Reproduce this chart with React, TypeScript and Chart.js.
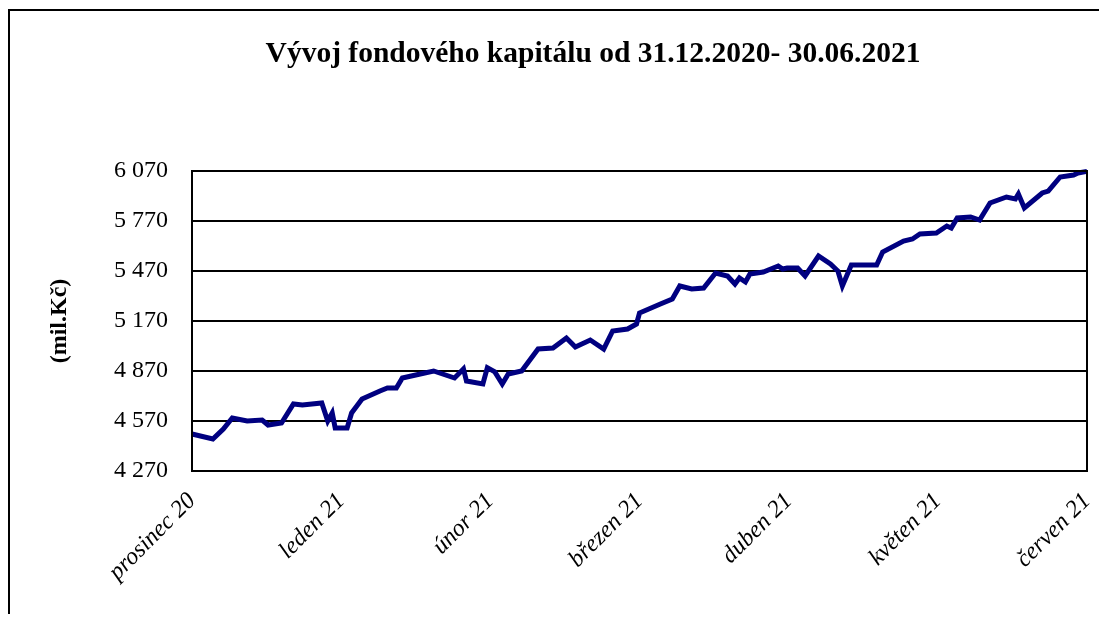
import React, { useEffect, useRef } from "react";
import { Chart, registerables } from "chart.js";

Chart.register(...registerables);

const chartTitle = "Vývoj fondového kapitálu od 31.12.2020- 30.06.2021";
const yAxisTitle = "(mil.Kč)";
const monthLabels = ["prosinec 20", "leden 21", "únor 21", "březen 21", "duben 21", "květen 21", "červen 21"];
const yMin = 4270;
const yMax = 6070;
const yStep = 300;

// position in months from the left edge of the axis
const monthPos = [
  0.0, 0.14, 0.21, 0.27, 0.37, 0.47, 0.51, 0.6, 0.68, 0.74, 0.87, 0.91, 0.94, 0.96,
  1.04, 1.07, 1.14, 1.26, 1.31, 1.37, 1.41, 1.53, 1.62, 1.66, 1.76, 1.82, 1.84, 1.95, 1.98,
  2.03, 2.08, 2.12, 2.21, 2.32, 2.42, 2.51, 2.57, 2.67, 2.76, 2.82, 2.92, 2.98,
  3.0, 3.14, 3.22, 3.27, 3.35, 3.43, 3.51, 3.59, 3.64, 3.67, 3.71, 3.74, 3.83, 3.93, 3.96, 3.99,
  4.06, 4.11, 4.2, 4.28, 4.33, 4.36, 4.42, 4.59, 4.63, 4.77, 4.83, 4.88, 4.99,
  5.06, 5.09, 5.13, 5.22, 5.28, 5.35, 5.46, 5.52, 5.54, 5.58, 5.7, 5.74, 5.82, 5.91, 5.94, 6.0,
];
const capital = [
  4492, 4462, 4522, 4588, 4570, 4576, 4546, 4558, 4672, 4666, 4678, 4570, 4618, 4528,
  4528, 4618, 4702, 4750, 4768, 4768, 4828, 4852, 4870, 4858, 4828, 4882, 4810, 4792, 4890,
  4865, 4792, 4852, 4870, 5002, 5008, 5068, 5014, 5056, 5002, 5110, 5122, 5152,
  5218, 5272, 5302, 5380, 5362, 5368, 5458, 5440, 5392, 5428, 5404, 5452, 5464, 5500, 5482, 5488,
  5488, 5440, 5560, 5512, 5470, 5380, 5506, 5506, 5584, 5650, 5662, 5692, 5698,
  5740, 5728, 5788, 5794, 5776, 5878, 5914, 5902, 5932, 5848, 5938, 5950, 6034, 6046, 6058, 6068,
];

const SERIF = "'Liberation Serif', 'Times New Roman', serif";

const framePlugin = {
  id: "frameAndTitle",
  afterDraw(chart: any) {
    const { ctx, chartArea } = chart;
    ctx.save();
    ctx.strokeStyle = "#000";
    ctx.lineWidth = 2;
    ctx.strokeRect(chartArea.left, chartArea.top, chartArea.right - chartArea.left, chartArea.bottom - chartArea.top);
    ctx.fillStyle = "#000";
    ctx.font = `bold 29.5px ${SERIF}`;
    ctx.textAlign = "center";
    ctx.textBaseline = "middle";
    ctx.fillText(chartTitle, 583, 43);
    ctx.restore();
  },
};

export default function App() {
  const ref = useRef<HTMLCanvasElement>(null);
  useEffect(() => {
    if (!ref.current) return;
    const points = monthPos.map((x, i) => ({ x, y: capital[i] }));
    const chart = new Chart(ref.current, {
      type: "line",
      data: {
        datasets: [
          {
            data: points,
            borderColor: "#000080",
            borderWidth: 5,
            pointRadius: 0,
            tension: 0,
            fill: false,
            clip: false as any,
          },
        ],
      },
      options: {
        animation: false,
        responsive: true,
        maintainAspectRatio: false,
        layout: { padding: { top: 160, left: 31, right: 20, bottom: 0 } },
        plugins: { legend: { display: false }, title: { display: false }, tooltip: { enabled: false } },
        scales: {
          x: {
            type: "linear",
            min: 0,
            max: 6,
            afterFit: (s: any) => {
              s.height = 143;
              s.paddingLeft = 0;
              s.paddingRight = 0;
            },
            ticks: {
              stepSize: 1,
              autoSkip: false,
              minRotation: 45,
              maxRotation: 45,
              padding: 8,
              color: "#000",
              font: { family: SERIF, size: 24, style: "italic" },
              callback: (v: any) => monthLabels[Math.round(Number(v))] ?? "",
            },
            grid: { display: false },
            border: { display: true, color: "#000", width: 2 },
          },
          y: {
            min: yMin,
            max: yMax,
            afterFit: (s: any) => {
              s.width = 151;
            },
            ticks: {
              stepSize: yStep,
              padding: 24,
              color: "#000",
              font: { family: SERIF, size: 24 },
              callback: (v: any) => {
                const n = Number(v);
                return `${Math.floor(n / 1000)} ${String(n % 1000).padStart(3, "0")}`;
              },
            },
            grid: { color: "#000", lineWidth: 2, drawTicks: false },
            border: { display: true, color: "#000", width: 2 },
            title: {
              display: true,
              text: yAxisTitle,
              color: "#000",
              font: { family: SERIF, size: 24, weight: "bold" },
              padding: { top: 4, bottom: 4 },
            },
          },
        },
      },
      plugins: [framePlugin],
    });
    return () => chart.destroy();
  }, []);

  return (
    <div
      style={{
        position: "relative",
        width: 1099,
        height: 605,
        marginTop: 1,
        boxSizing: "border-box",
        borderTop: "2px solid #000",
        borderLeft: "2px solid #000",
        background: "#fff",
      }}
    >
      <canvas ref={ref} />
    </div>
  );
}
